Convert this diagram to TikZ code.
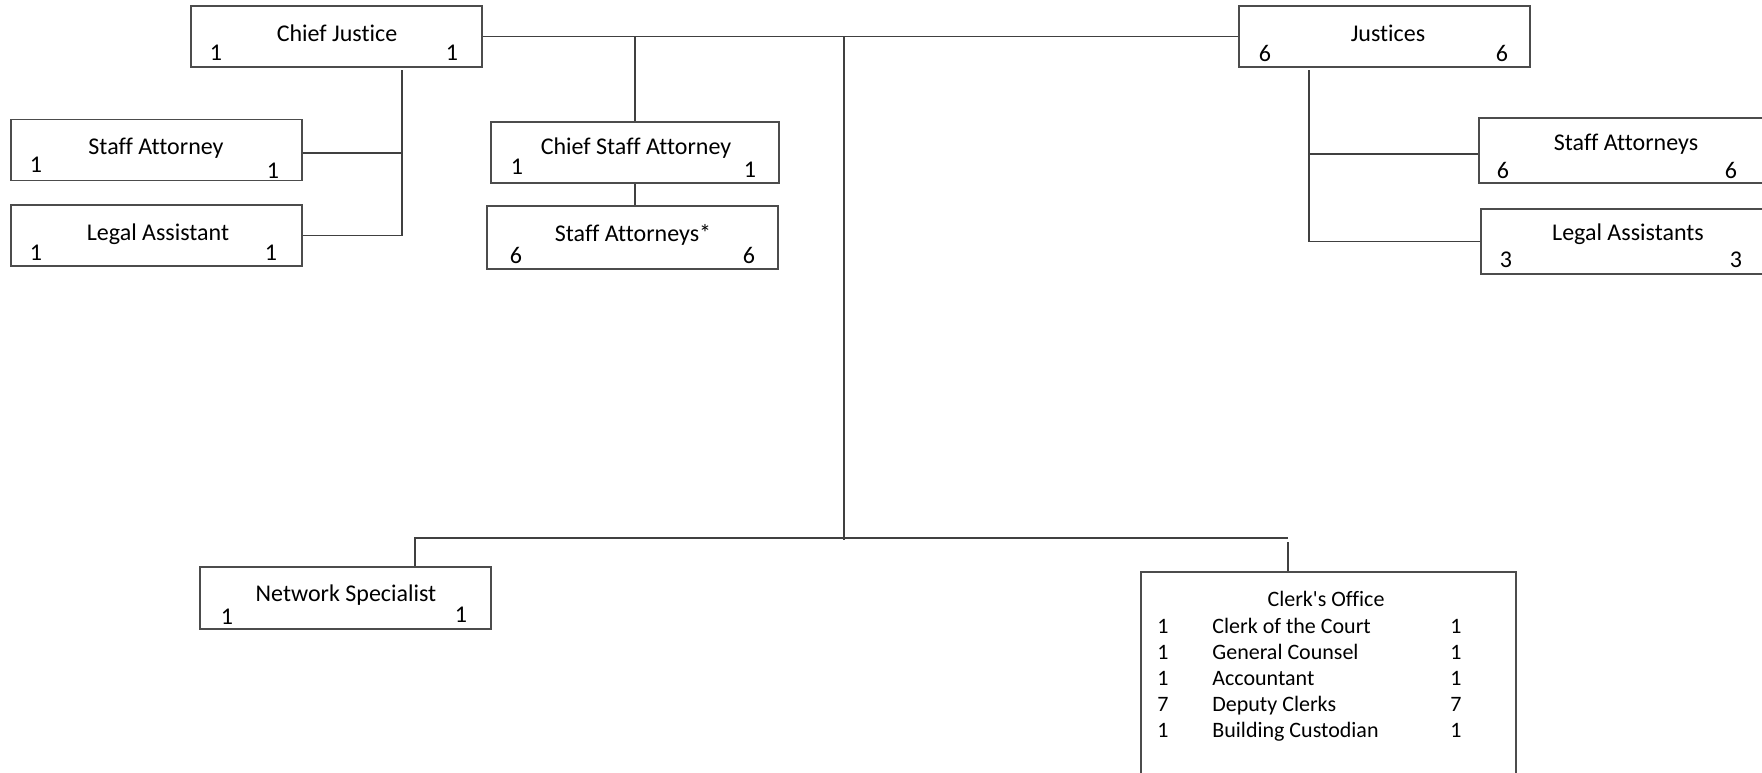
\documentclass[tikz,border=0pt]{standalone}
\usepackage{fontspec}
\setmainfont[Ligatures=CommonOff]{Carlito}
\usepackage{tikz}

\tikzset{
  post/.style={draw=black!70, line width=0.6pt, minimum width=145.5pt, minimum height=30.5pt, inner sep=0pt},
  title/.style={anchor=base, inner sep=0pt, font=\fontsize{12}{14}\selectfont},
  count/.style={anchor=base, inner sep=0pt, font=\fontsize{12}{14}\selectfont},
  clerk/.style={anchor=base, inner sep=0pt, font=\fontsize{11}{13}\selectfont},
  wire/.style={draw=black!75, line width=0.6pt}
}

\begin{document}
\begin{tikzpicture}[x=0.5pt,y=-0.5pt]
    \useasboundingbox (0,0) rectangle (1762,772);
    \clip (0,0) rectangle (1762,772);

    % boxes
    \node[post] (cj) at (336.5,36.5) {};
    \node[post] (jus) at (1384.5,36.5) {};
    \node[post] (sa) at (156.5,150) {};
    \node[post] (la) at (156.5,235.5) {};
    \node[post,minimum width=144pt] (csa) at (635,152.5) {};
    \node[post,minimum height=31.5pt] (sastar) at (632.5,237.5) {};
    \node[post,minimum height=32.5pt] (sas) at (1624.5,150.5) {};
    \node[post,minimum height=32.5pt] (las) at (1626.5,241.5) {};
    \node[post,minimum height=31pt] (ns) at (345.5,598) {};
    \node[post,minimum width=187.5pt,minimum height=114pt] (co) at (1328.5,686) {};

    % titles and numbers
    \node[title] (cjt) at (337,41) {Chief Justice};
    \node[count] (cjl) at (216,60) {1};
    \node[count] (cjr) at (452,60) {1};
    \node[title] (just) at (1388,41) {Justices};
    \node[count] (jusl) at (1265,61) {6};
    \node[count] (jusr) at (1502,61) {6};
    \node[title] (sat) at (156,154) {Staff Attorney};
    \node[count] (sal) at (36,172) {1};
    \node[count] (sar) at (273,178) {1};
    \node[title] (lat) at (158,240) {Legal Assistant};
    \node[count] (lal) at (36,260) {1};
    \node[count] (lar) at (271,260) {1};
    \node[title] (csat) at (636,154) {Chief Staff Attorney};
    \node[count] (csal) at (517,174) {1};
    \node[count] (csar) at (750,177) {1};
    \node[title] (sastart) at (633,241) {Staff Attorneys*};
    \node[count] (sastarl) at (516,263) {6};
    \node[count] (sastarr) at (749,263) {6};
    \node[title] (sast) at (1626,150) {Staff Attorneys};
    \node[count] (sasl) at (1503,178) {6};
    \node[count] (sasr) at (1731,178) {6};
    \node[title] (last) at (1628,240) {Legal Assistants};
    \node[count] (lasl) at (1506,267) {3};
    \node[count] (lasr) at (1736,267) {3};
    \node[title] (nst) at (346,601) {Network Specialist};
    \node[count] (nsl) at (227,624) {1};
    \node[count] (nsr) at (461,622) {1};

    % clerk's office
    \node[clerk] (cot) at (1326,606) {Clerk\textquotesingle s Office};
    \foreach \n/\job [count=\i] in {1/Clerk of the Court,1/General Counsel,1/Accountant,7/Deputy Clerks,1/Building Custodian}{
        \node[clerk] (col\i) at (1163,607+26*\i) {\n};
        \node[clerk,anchor=base west] (cojob\i) at (1212,607+26*\i) {\job};
        \node[clerk] (cor\i) at (1456,607+26*\i) {\n};
    }

    % lines
    \draw[wire] (cj.east) -- (jus.west);
    \draw[wire] (csa.north |- cj.east) -- (csa.north);
    \draw[wire] (csa.south) -- (csa.south |- sastar.north);

    \coordinate (cjfoot) at (402,70);
    \coordinate (cjsa) at (402,153);
    \draw[wire] (cjfoot) |- (la.east);
    \draw[wire] (cjsa) -- (cjsa -| sa.east);

    \coordinate (jfoot) at (1309,70);
    \coordinate (jsa) at (1309,154);
    \draw[wire] (jfoot) |- (las.west);
    \draw[wire] (jsa) -- (jsa -| sas.west);

    \coordinate (hub) at (844,540);
    \draw[wire] (hub |- cj.east) -- (hub);
    \coordinate (nsin) at (415,538);
    \coordinate (coin) at (1288,538);
    \coordinate (cotop) at (1288,542);
    \draw[wire] (nsin |- ns.north) -- (nsin) -- (coin);
    \draw[wire] (cotop) -- (cotop |- co.north);
\end{tikzpicture}
\end{document}
